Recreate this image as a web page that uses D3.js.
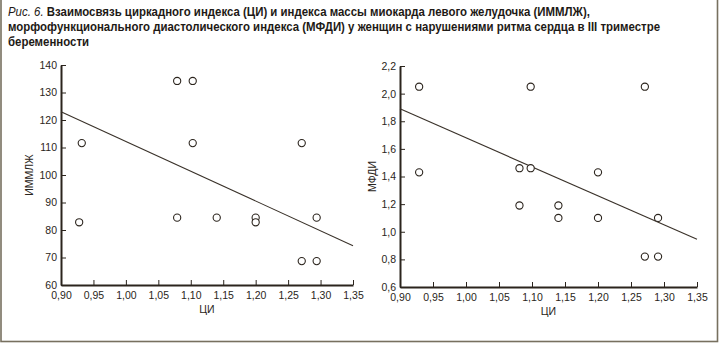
<!DOCTYPE html>
<html>
<head>
<meta charset="utf-8">
<script src="https://cdn.jsdelivr.net/npm/d3@7"></script>
<style>
  html, body { margin: 0; padding: 0; background: #fff; }
  svg { display: block; }
  .title { font-family: "Liberation Sans", Arial, sans-serif; font-size: 13px; fill: #1e1a16; }
  .tick text { font-family: "Liberation Sans", Arial, sans-serif; font-size: 10.5px; fill: #2a2520; }
  .axis-title { font-family: "Liberation Sans", Arial, sans-serif; font-size: 10.5px; fill: #2a2520; }
</style>
</head>
<body>
<svg id="chart" width="720" height="345"></svg>
<script>
// Circadian index (ЦИ) on the x axis for both panels
const ciTicks = [0.90, 0.95, 1.00, 1.05, 1.10, 1.15, 1.20, 1.25, 1.30, 1.35];

// Left panel: ИММЛЖ
const immlzhCI    = [0.932, 1.079, 1.103, 1.103, 1.271, 0.928, 1.079, 1.140, 1.200, 1.200, 1.294, 1.271, 1.294];
const immlzhValue = [111.6, 134.2, 134.2, 111.6, 111.6, 82.8, 84.5, 84.5, 84.5, 82.8, 84.5, 68.7, 68.7];
const immlzhTicks = [60, 70, 80, 90, 100, 110, 120, 130, 140];
const immlzhTrendCI = [0.90, 1.35];
const immlzhTrend   = [123.0, 74.3];

// Right panel: МФДИ
const mfdiCI    = [0.929, 1.098, 1.271, 0.929, 1.081, 1.098, 1.200, 1.081, 1.140, 1.140, 1.200, 1.291, 1.271, 1.291];
const mfdiValue = [2.05, 2.05, 2.05, 1.43, 1.46, 1.46, 1.43, 1.19, 1.19, 1.10, 1.10, 1.10, 0.82, 0.82];
const mfdiTicks = [0.6, 0.8, 1.0, 1.2, 1.4, 1.6, 1.8, 2.0, 2.2];
const mfdiTrendCI = [0.90, 1.35];
const mfdiTrend   = [1.89, 0.945];

const titleLines = [
  ["Рис. 6. ", "Взаимосвязь циркадного индекса (ЦИ) и индекса массы миокарда левого желудочка (ИММЛЖ),"],
  ["", "морфофункционального диастолического индекса (МФДИ) у женщин с нарушениями ритма сердца в III триместре"],
  ["", "беременности"]
];

const svg = d3.select("#chart");
const ink = "#2b241d";
const comma = s => s.replace(".", ",");

// Page frame
svg.append("rect")
  .attr("x", 1).attr("y", -4).attr("width", 716.5).attr("height", 345.5)
  .attr("fill", "none").attr("stroke", "#77705f").attr("stroke-width", 1.6);

// Caption, set in a condensed cut
const title = svg.append("g").attr("transform", "translate(8,0) scale(0.88,1)");
titleLines.forEach((ln, i) => {
  const t = title.append("text").attr("class", "title")
    .attr("x", 0).attr("y", 16 + i * 15);
  if (ln[0]) t.append("tspan").attr("font-style", "italic").text(ln[0]);
  t.append("tspan").attr("font-weight", "bold").text(ln[1]);
});

function panel(opts) {
  const { left, right, top, bottom, ys, yTicks, yFmt, yLabel, labelX } = opts;
  const x = d3.scaleLinear().domain([0.90, 1.35]).range([left, right]);
  const y = d3.scaleLinear().domain(ys.domain).range([bottom, top]);
  const g = svg.append("g");

  // y axis, ticks pointing into the plot
  const ya = g.append("g").attr("transform", `translate(${left},0)`)
    .call(d3.axisLeft(y).tickValues(yTicks).tickFormat(yFmt).tickSizeInner(-5).tickSizeOuter(0).tickPadding(4));
  ya.select(".domain").attr("stroke", ink).attr("stroke-width", 2);
  ya.selectAll(".tick line").attr("stroke", ink).attr("stroke-width", 1);
  ya.selectAll(".tick text").attr("x", -4);

  // x axis, ticks pointing up
  const xa = g.append("g").attr("transform", `translate(0,${bottom})`)
    .call(d3.axisBottom(x).tickValues(ciTicks).tickFormat(d => comma(d3.format(".2f")(d))).tickSizeInner(-5).tickSizeOuter(0));
  xa.select(".domain").attr("stroke", ink).attr("stroke-width", 2);
  xa.selectAll(".tick line").attr("stroke", ink).attr("stroke-width", 1);
  xa.selectAll(".tick text").attr("y", 7);

  // Regression line
  g.append("line")
    .attr("x1", x(opts.trendX[0])).attr("y1", y(opts.trendY[0]))
    .attr("x2", x(opts.trendX[1])).attr("y2", y(opts.trendY[1]))
    .attr("stroke", "#3a322a").attr("stroke-width", 1.1);

  // Observations
  g.selectAll("circle").data(opts.xv.map((d, i) => [d, opts.yv[i]])).join("circle")
    .attr("cx", d => x(d[0])).attr("cy", d => y(d[1])).attr("r", 3.6)
    .attr("fill", "#fff").attr("stroke", ink).attr("stroke-width", 1.1);

  // Axis titles
  g.append("text").attr("class", "axis-title")
    .attr("x", (left + right) / 2).attr("y", bottom + 28).attr("text-anchor", "middle").text("ЦИ");
  g.append("text").attr("class", "axis-title")
    .attr("transform", `translate(${labelX},${(top + bottom) / 2}) rotate(-90)`)
    .attr("text-anchor", "middle").text(yLabel);
}

panel({
  left: 61, right: 353, top: 65, bottom: 285,
  ys: { domain: [60, 140] }, yTicks: immlzhTicks, yFmt: d3.format("d"),
  yLabel: "ИММЛЖ", labelX: 33,
  xv: immlzhCI, yv: immlzhValue, trendX: immlzhTrendCI, trendY: immlzhTrend
});

panel({
  left: 400, right: 697, top: 66, bottom: 287,
  ys: { domain: [0.6, 2.2] }, yTicks: mfdiTicks, yFmt: d => comma(d3.format(".1f")(d)),
  yLabel: "МФДИ", labelX: 376,
  xv: mfdiCI, yv: mfdiValue, trendX: mfdiTrendCI, trendY: mfdiTrend
});
</script>
</body>
</html>
